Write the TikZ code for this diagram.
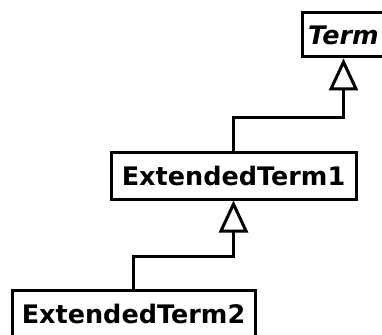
\documentclass[tikz,border=0pt]{standalone}
\usepackage{fontspec}
\setmainfont{DejaVu Sans}
\usetikzlibrary{arrows.meta}
\begin{document}
\begin{tikzpicture}[x=1pt,y=-1pt,
  cls/.style={draw=black,line width=3pt,fill=white,inner sep=0pt,minimum height=44pt,font=\fontsize{25.5}{27}\selectfont\bfseries},
  inh/.style={line width=3pt,-{Triangle[open,length=32pt,width=29pt,fill=white]}}]
\useasboundingbox (0,0) rectangle (382,334);
\node[cls,minimum width=83pt] (term) at (343.5,35) {\itshape Term};
\node[cls,minimum width=245pt,minimum height=47pt] (ext1) at (233.5,175.5) {ExtendedTerm1};
\node[cls,minimum width=243pt,minimum height=47pt] (ext2) at (133.5,313.5) {ExtendedTerm2};
\coordinate (k1) at (0,117);
\coordinate (k2) at (0,256);
\draw[inh] (ext1.north) -- (ext1.north |- k1) -| (term.south);
\draw[inh] (ext2.north) -- (ext2.north |- k2) -| (ext1.south);
\end{tikzpicture}
\end{document}
